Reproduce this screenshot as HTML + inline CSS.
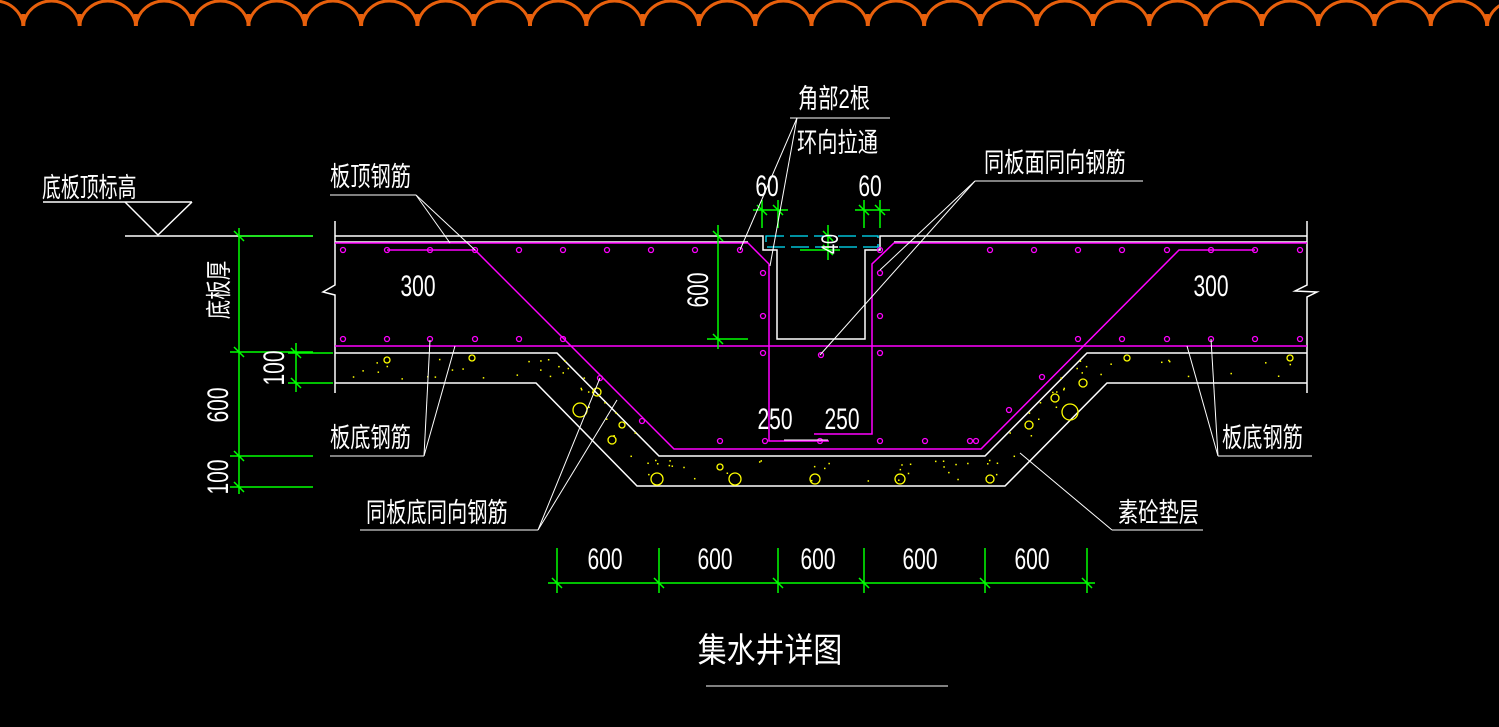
<!DOCTYPE html>
<html><head><meta charset="utf-8"><style>
html,body{margin:0;padding:0;background:#000;}
svg{display:block}
text{font-family:"Liberation Sans","Noto Sans CJK SC",sans-serif;fill:#fff;}
</style></head><body>
<svg width="1499" height="727" viewBox="0 0 1499 727" xmlns="http://www.w3.org/2000/svg">
<rect width="1499" height="727" fill="#000"/>
<g fill="none" stroke="#e8600c" stroke-width="3" id="scg"></g>

<g fill="none" stroke="#fff" stroke-width="1.5">
<line x1="43" y1="202" x2="192" y2="202"/>
<polyline points="125,202 158,235 192,202"/>
<line x1="125" y1="236" x2="313" y2="236"/>
<polyline points="335,236 763,236 763,250 777,250 777,339 865,339 865,250 880,250 880,236 1307,236"/>
<line x1="335" y1="242" x2="748" y2="242"/>
<line x1="894" y1="242" x2="1307" y2="242"/>
<polyline points="335,221 335,285 323,292 335,295 335,393"/>
<polyline points="1307,221 1307,285 1295,291 1317,292 1307,297 1307,393"/>
<polyline points="335,353 557,353 659,456 985,456 1087,353 1307,353"/>
<polyline points="335,383 536,383 637,486 1005,486 1107,383 1307,383"/>
</g>
<g fill="none" stroke="#ff00ff" stroke-width="1.5">
<polyline points="335,243 748,243 769,264 769,441 829,441"/>
<polyline points="1307,243 894,243 872,264 872,434 814,434"/>
<line x1="335" y1="346" x2="1307" y2="346"/>
<polyline points="387,250 475,250 674,449 981,449 1179,250 1255,250"/>
</g>
<g fill="none" stroke="#ff00ff" stroke-width="1.3" id="dots"></g>
<rect x="766" y="236" width="112" height="11" fill="none" stroke="#00e5ff" stroke-width="1.3" stroke-dasharray="18,6"/>
<g fill="none" stroke="#ffff00" stroke-width="1.3">
<circle cx="580" cy="410" r="7"/><circle cx="597" cy="392" r="4"/><circle cx="612" cy="440" r="4"/>
<circle cx="657" cy="479" r="6"/><circle cx="735" cy="479" r="6"/><circle cx="815" cy="479" r="5"/>
<circle cx="900" cy="479" r="5"/><circle cx="1070" cy="412" r="8"/><circle cx="1029" cy="425" r="4"/>
<circle cx="1055" cy="398" r="4"/><circle cx="990" cy="479" r="4"/><circle cx="720" cy="467" r="3"/>
<circle cx="622" cy="425" r="3"/><circle cx="1083" cy="383" r="4"/><circle cx="387" cy="360" r="3"/>
<circle cx="472" cy="358" r="3"/><circle cx="1127" cy="358" r="3"/><circle cx="1290" cy="358" r="3"/>
</g>
<g fill="#ffff00" id="ydots"></g>
<g stroke="#00ff00" stroke-width="1.5" fill="none">
<line x1="239" y1="228" x2="239" y2="494"/>
<line x1="230" y1="352" x2="313" y2="352"/>
<line x1="230" y1="456" x2="313" y2="456"/>
<line x1="230" y1="487" x2="313" y2="487"/>
<line x1="239" y1="236" x2="313" y2="236"/>
<line x1="296" y1="343" x2="296" y2="392"/>
<line x1="288" y1="353" x2="333" y2="353"/>
<line x1="288" y1="383" x2="333" y2="383"/>
<line x1="718" y1="225" x2="718" y2="349"/>
<line x1="707" y1="339" x2="748" y2="339"/>
<line x1="548" y1="583" x2="1095" y2="583"/>
<line x1="557" y1="548" x2="557" y2="593"/><line x1="659" y1="548" x2="659" y2="593"/>
<line x1="778" y1="548" x2="778" y2="593"/><line x1="864" y1="548" x2="864" y2="593"/>
<line x1="985" y1="548" x2="985" y2="593"/><line x1="1087" y1="548" x2="1087" y2="593"/>
<line x1="753" y1="210" x2="788" y2="210"/><line x1="762" y1="200" x2="762" y2="228"/><line x1="778" y1="200" x2="778" y2="228"/>
<line x1="855" y1="210" x2="890" y2="210"/><line x1="864" y1="200" x2="864" y2="228"/><line x1="880" y1="200" x2="880" y2="228"/>
<line x1="828" y1="225" x2="828" y2="260"/><line x1="800" y1="250" x2="840" y2="250"/>
</g>
<g stroke="#00ff00" stroke-width="1.5" id="ticks"></g>
<g stroke="#fff" stroke-width="1" fill="none">
<line x1="330" y1="195" x2="416" y2="195"/>
<polyline points="416,195 475,250"/><polyline points="416,195 450,243"/>
<line x1="790" y1="118" x2="890" y2="118"/>
<polyline points="797,118 740,250"/><polyline points="797,118 770,266"/>
<line x1="975" y1="181" x2="1143" y2="181"/>
<polyline points="975,181 880,270"/><polyline points="975,181 820,355"/>
<line x1="330" y1="456" x2="424" y2="456"/>
<polyline points="424,456 430,340"/><polyline points="424,456 455,346"/>
<line x1="1218" y1="456" x2="1312" y2="456"/>
<polyline points="1218,456 1187,346"/><polyline points="1218,456 1211,339"/>
<line x1="360" y1="530" x2="538" y2="530"/>
<polyline points="538,530 600,378"/><polyline points="538,530 617,400"/>
<line x1="1112" y1="530" x2="1203" y2="530"/>
<polyline points="1112,530 1020,453"/>
<line x1="706" y1="686" x2="948" y2="686"/>
<line x1="784" y1="440" x2="828" y2="440"/>
</g>
<g font-size="27">
<text x="42" y="197" transform="translate(42,197) scale(0.7,1) translate(-42,-197)">底板顶标高</text>
<text x="330" y="186" transform="translate(330,186) scale(0.75,1) translate(-330,-186)">板顶钢筋</text>
<text x="798" y="108" transform="translate(798,108) scale(0.75,1) translate(-798,-108)">角部2根</text>
<text x="797" y="152" transform="translate(797,152) scale(0.75,1) translate(-797,-152)">环向拉通</text>
<text x="984" y="172" transform="translate(984,172) scale(0.75,1) translate(-984,-172)">同板面同向钢筋</text>
<text x="330" y="447" transform="translate(330,447) scale(0.75,1) translate(-330,-447)">板底钢筋</text>
<text x="1222" y="447" transform="translate(1222,447) scale(0.75,1) translate(-1222,-447)">板底钢筋</text>
<text x="366" y="522" transform="translate(366,522) scale(0.75,1) translate(-366,-522)">同板底同向钢筋</text>
<text x="1118" y="522" transform="translate(1118,522) scale(0.75,1) translate(-1118,-522)">素砼垫层</text>
</g>
<g font-size="30">
<text x="418" y="296" text-anchor="middle" transform="translate(418,296) scale(0.7,1) translate(-418,-296)">300</text>
<text x="1211" y="296" text-anchor="middle" transform="translate(1211,296) scale(0.7,1) translate(-1211,-296)">300</text>
<text x="775" y="429" text-anchor="middle" transform="translate(775,429) scale(0.7,1) translate(-775,-429)">250</text>
<text x="842" y="429" text-anchor="middle" transform="translate(842,429) scale(0.7,1) translate(-842,-429)">250</text>
<text x="767" y="196" text-anchor="middle" transform="translate(767,196) scale(0.7,1) translate(-767,-196)">60</text>
<text x="870" y="196" text-anchor="middle" transform="translate(870,196) scale(0.7,1) translate(-870,-196)">60</text>
<text x="605" y="569" text-anchor="middle" transform="translate(605,569) scale(0.7,1) translate(-605,-569)">600</text>
<text x="715" y="569" text-anchor="middle" transform="translate(715,569) scale(0.7,1) translate(-715,-569)">600</text>
<text x="818" y="569" text-anchor="middle" transform="translate(818,569) scale(0.7,1) translate(-818,-569)">600</text>
<text x="920" y="569" text-anchor="middle" transform="translate(920,569) scale(0.7,1) translate(-920,-569)">600</text>
<text x="1032" y="569" text-anchor="middle" transform="translate(1032,569) scale(0.7,1) translate(-1032,-569)">600</text>
<text transform="translate(708,290) rotate(-90) scale(0.7,1)" text-anchor="middle">600</text>
<text transform="translate(228,405) rotate(-90) scale(0.7,1)" text-anchor="middle">600</text>
<text transform="translate(228,477) rotate(-90) scale(0.7,1)" text-anchor="middle">100</text>
<text transform="translate(284,368) rotate(-90) scale(0.7,1)" text-anchor="middle">100</text>
<text transform="translate(838,244) rotate(-90) scale(0.6,0.8)" text-anchor="middle">40</text>
</g>
<text transform="translate(228,290) rotate(-90) scale(0.75,1)" text-anchor="middle" font-size="26">底板厚</text>
<text x="770" y="662" text-anchor="middle" font-size="34" transform="translate(770,662) scale(0.85,1) translate(-770,-662)">集水井详图</text>
<script>
(function(){
var ns="http://www.w3.org/2000/svg";
var g=document.getElementById("scg");var d="";
for(var x=-33;x<1520;x+=56.3){d+="M"+x+",25 A28.5,28.5 0 0 1 "+(x+56.3)+",25 ";}
var p=document.createElementNS(ns,"path");p.setAttribute("d",d);g.appendChild(p);
var t=document.createElementNS(ns,"path");var td="";
for(var x=-33;x<1520;x+=56.3){td+="M"+x+",14 L"+x+",26 ";}
t.setAttribute("d",td);t.setAttribute("stroke-width","4");g.appendChild(t);
var dg=document.getElementById("dots");
function c(x,y){var e=document.createElementNS(ns,"circle");e.setAttribute("cx",x);e.setAttribute("cy",y);e.setAttribute("r",2.5);dg.appendChild(e);}
[343,387,430,475,519,563,607,651,695,740,880,990,1034,1078,1122,1167,1211,1255,1300].forEach(function(x){c(x,250)});
[343,387,430,475,519,563,1078,1122,1167,1211,1255,1300].forEach(function(x){c(x,339)});
[[763,273],[880,273],[763,316],[880,316],[763,353],[821,355],[880,353],[600,378],[642,421],[720,441],[765,441],[820,441],[880,441],[925,441],[970,441],[1042,377],[1009,410],[976,441]].forEach(function(a){c(a[0],a[1])});
var yg=document.getElementById("ydots");
var pts=[];
for(var i=0;i<70;i++){var x=345+Math.random()*950,y;
 if(x<550||x>1100){y=358+Math.random()*22;}else if(x>665&&x<980){y=460+Math.random()*22;}else continue;
 pts.push([x,y]);}
for(var i=0;i<20;i++){var s=Math.random();var o=Math.random()*25;
 pts.push([557+s*100-o*0.7+10,353+s*103+o*0.7+3]);pts.push([1087-s*100+o*0.7-10,353+s*103+o*0.7+3]);}
pts.forEach(function(a){var r=document.createElementNS(ns,"rect");r.setAttribute("x",a[0]);r.setAttribute("y",a[1]);r.setAttribute("width",1.5);r.setAttribute("height",1.5);yg.appendChild(r);});
var tk=document.getElementById("ticks");var td2="";
[[239,236],[239,352],[239,456],[239,487],[296,353],[296,383],[718,236],[718,339],[557,583],[659,583],[778,583],[864,583],[985,583],[1087,583],[762,210],[778,210],[864,210],[880,210],[828,236],[828,250]].forEach(function(a){td2+="M"+(a[0]-5)+","+(a[1]-5)+" L"+(a[0]+5)+","+(a[1]+5)+" ";});
var tp=document.createElementNS(ns,"path");tp.setAttribute("d",td2);tk.appendChild(tp);
})();
</script>
</svg>
</body></html>
